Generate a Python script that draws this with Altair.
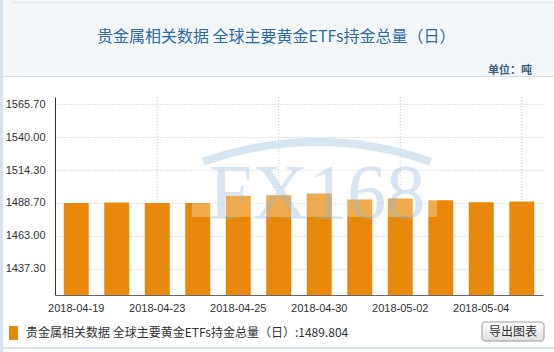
import math
import altair as alt
import pandas as pd

# ---------------- data ----------------
dates = ["2018-04-19", "2018-04-20", "2018-04-23", "2018-04-24", "2018-04-25", "2018-04-26",
         "2018-04-30", "2018-05-01", "2018-05-02", "2018-05-03", "2018-05-04", "2018-05-07"]
values = [1488.7, 1489.0, 1488.7, 1488.6, 1494.2, 1494.7,
          1496.0, 1491.4, 1492.1, 1490.8, 1489.2, 1489.804]
label_dates = ["2018-04-19", "2018-04-23", "2018-04-25", "2018-04-30", "2018-05-02", "2018-05-04"]
grid_dates = ["2018-04-23", "2018-04-26", "2018-05-02", "2018-05-07"]
y_ticks = [1437.30, 1463.00, 1488.70, 1514.30, 1540.00, 1565.70]
y_domain = [1416.8, 1571.4]

title_text = "贵金属相关数据 全球主要黄金ETFs持金总量（日）"
unit_text = "单位：吨"
series_name = "贵金属相关数据 全球主要黄金ETFs持金总量（日）"
button_text = "导出图表"
watermark_text = "FX168"

# ---------------- layout ----------------
W, H = 488, 198
PL, PT = 55, 97
BAR = "#e8890c"
CJK = "Noto Sans CJK SC"
LAT = "Liberation Sans"

df = pd.DataFrame({"date": dates, "value": values})
gdf = pd.DataFrame({"date": grid_dates})
one = pd.DataFrame({"k": [0]})

xscale = alt.Scale(domain=dates, paddingInner=0.383, paddingOuter=0.216)
yscale = alt.Scale(domain=y_domain, zero=False, nice=False)


def box(x1, y1, x2, y2, **kw):
    return alt.Chart(one).mark_rect(**kw).encode(
        x=alt.value(x1 - PL), x2=alt.value(x2 - PL),
        y=alt.value(y1 - PT), y2=alt.value(y2 - PT))


def label(text, x, y, **kw):
    return alt.Chart(pd.DataFrame({"t": [text]})).mark_text(**kw).encode(
        x=alt.value(x - PL), y=alt.value(y - PT), text="t:N")


header = box(3, 0, 554, 76, fill="#f4f7fa")
header_line = box(3, 76, 554, 77, fill="#d3dde8")
top_line = box(12, 2, 554, 3, fill="#dfe6ee")
left_strip = box(0, 0, 3, 352, fill="#d6e3ef")
bottom_line = box(3, 347, 554, 349, fill="#dbe6f1")

vgrid = alt.Chart(gdf).mark_rule(color="#c8c8c8", strokeDash=[1, 2], strokeWidth=1).encode(
    x=alt.X("date:N", scale=xscale, sort=dates),
    y=alt.value(0), y2=alt.value(H))

bars = alt.Chart(df).mark_bar(color=BAR).encode(
    x=alt.X("date:N", scale=xscale, sort=dates,
            axis=alt.Axis(values=label_dates, title=None, labelAngle=0, labelAlign="center",
                          labelBaseline="top", tickSize=0, zindex=1,
                          labelPadding=7, domainColor="#666666", labelColor="#333333",
                          labelFont=LAT, labelFontSize=11, grid=False)),
    y=alt.Y("value:Q", scale=yscale,
            axis=alt.Axis(values=y_ticks, format=".2f", title=None, tickSize=0,
                          labelPadding=10, domainColor="#333333", labelColor="#333333",
                          labelFont=LAT, labelFontSize=11, grid=True,
                          gridDash=[1, 2], gridColor="#c8c8c8")),
    y2=alt.datum(y_domain[0]))

overlay = box(192, 150, 437, 217, fill="white", opacity=0.28)
wm_text = label(watermark_text, 317, 218, font="Liberation Serif", fontSize=78,
                color="#8fb8da", opacity=0.36, align="center", baseline="alphabetic")
t0 = 0.345
wm_arc = alt.Chart(one).mark_arc(
    theta=2 * math.pi - t0, theta2=2 * math.pi + t0, radius=340, radius2=332,
    color="#d6e6f3").encode(x=alt.value(317 - PL), y=alt.value(478 - PT))

title = label(title_text, 97, 37, font=CJK, fontSize=16, color="#2e6aa3",
              align="left", baseline="middle")
unit = label(unit_text, 532, 71, font=CJK, fontSize=11, color="#3f5f80",
             fontWeight="bold", align="right", baseline="middle")

legend_sq = box(9, 326, 18, 340, fill=BAR)
legend_txt = label(f"{series_name}:{values[-1]:.3f}", 26, 333, font=CJK, fontSize=12,
                   color="#333333", align="left", baseline="middle")

button = box(482, 322, 544, 341,
             fill=alt.LinearGradient(gradient="linear",
                                     stops=[alt.GradientStop(color="#ffffff", offset=0),
                                            alt.GradientStop(color="#e0e0e0", offset=1)],
                                     x1=0, x2=0, y1=0, y2=1),
             stroke="#9c9c9c", strokeWidth=1, cornerRadius=3)
button_txt = label(button_text, 513, 332, font=CJK, fontSize=12, color="#333333",
                   align="center", baseline="middle")

chart = alt.layer(
    header, header_line, top_line, left_strip, bottom_line,
    vgrid, bars, overlay, wm_text, wm_arc,
    title, unit, legend_sq, legend_txt, button, button_txt
).properties(
    width=W, height=H,
    padding={"left": PL, "top": PT, "right": 554 - PL - W, "bottom": 352 - PT - H},
    autosize=alt.AutoSizeParams(type="none"),
    background="white",
).configure_view(stroke=None)

chart.save("out.html", embed_options={"renderer": "svg", "actions": False})
